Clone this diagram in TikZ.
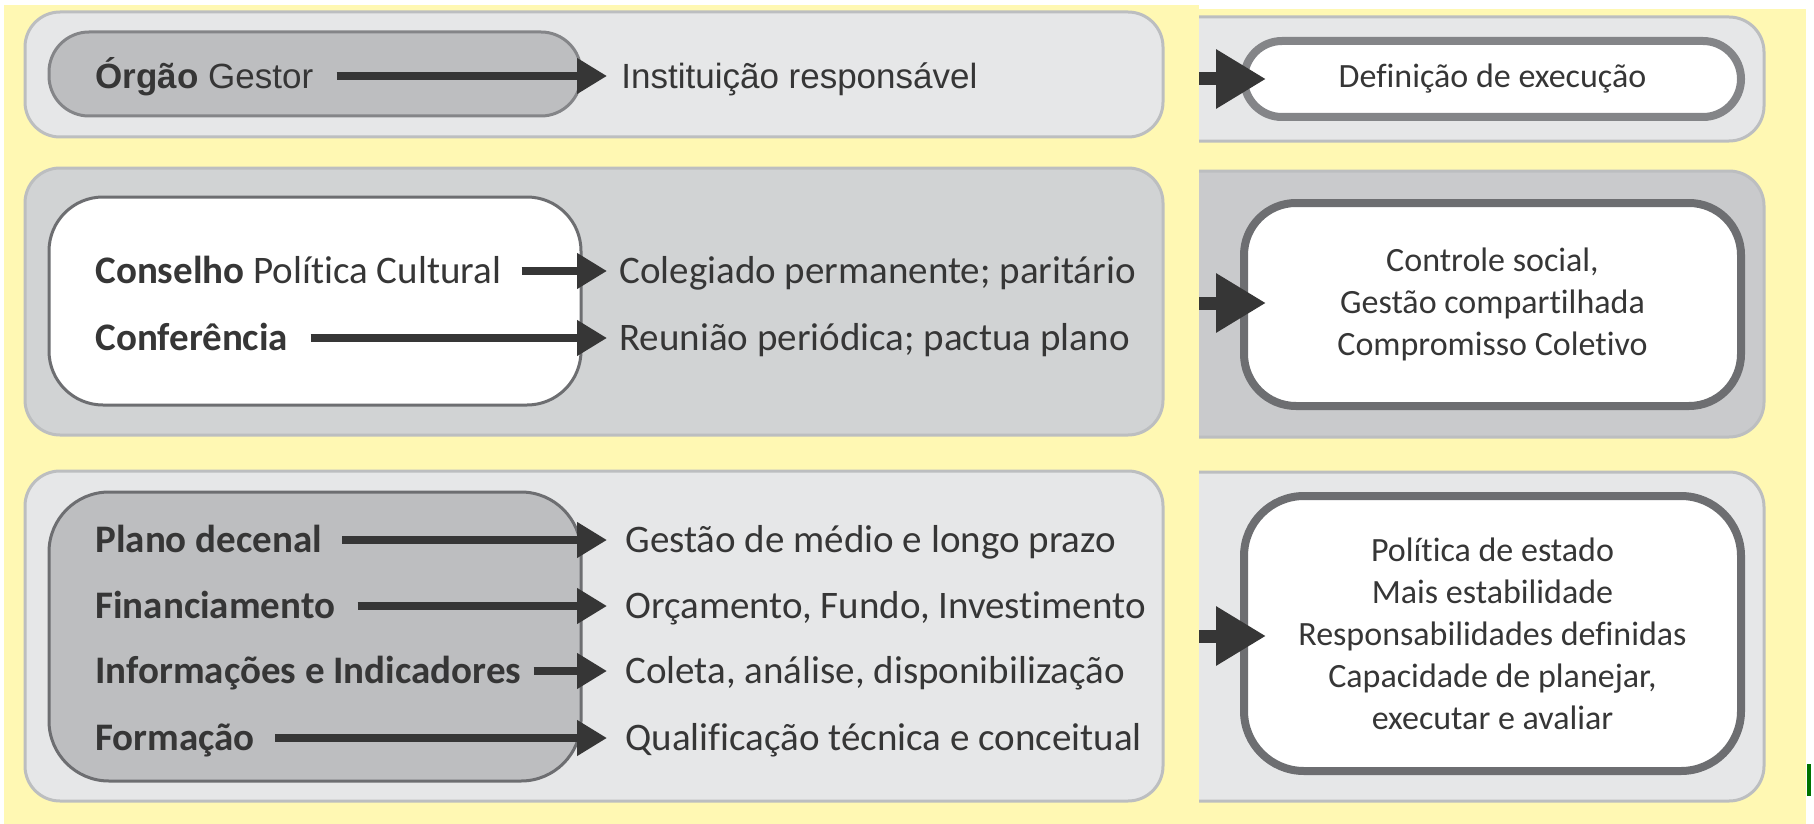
\documentclass[tikz,border=0pt]{standalone}
\usepackage{fontspec}
\setmainfont{Carlito}[RawFeature={-liga;-clig;-calt;-dlig}]
\newfontfamily\arialfont{Liberation Sans}
\usetikzlibrary{arrows.meta}

\definecolor{bgyellow}{HTML}{FFF8B3}
\definecolor{panellight}{HTML}{E6E7E8}
\definecolor{panelmid}{HTML}{D1D3D4}
\definecolor{panelmidr}{HTML}{C9CACC}
\definecolor{panelline}{HTML}{BCBEC0}
\definecolor{boxgray}{HTML}{BDBEC0}
\definecolor{boxline}{HTML}{6D6E71}
\definecolor{boxlinelt}{HTML}{848588}
\definecolor{arrowc}{HTML}{363636}
\definecolor{txt}{HTML}{363636}

\begin{document}
\begin{tikzpicture}[x=0.5pt,y=-0.5pt,
    lbl/.style={anchor=west, inner sep=0pt, text height=12.5pt, text depth=0pt,
      text=txt, font=\fontsize{19.5}{23}\selectfont},
    lblA/.style={lbl, font=\arialfont\fontsize{17.5}{21}\selectfont},
    arr/.style={-{Triangle[length=15pt,width=17pt]}, line width=4pt, draw=arrowc},
    bigarr/.style={-{Triangle[length=25pt,width=28pt]}, line width=6.5pt, draw=arrowc},
    panel/.style={line width=1.5pt, draw=panelline, rounded corners=17.5pt},
    result/.style={draw=boxline, fill=white, line width=4pt, align=center,
      inner sep=0pt, text=txt, font=\fontsize{17}{21}\selectfont,
      minimum width=248.5pt}]
  \useasboundingbox (0,0) rectangle (1814,824);
  \fill[white] (0,0) rectangle (1814,824);
  \fill[bgyellow] (4,5) rectangle (1199,824);
  \fill[bgyellow] (1199,9) rectangle (1806,824);
  \fill[green!45!black] (1807,764) rectangle (1811,796);

  % left panels
  \draw[panel, fill=panellight] (25,12) rectangle (1163,137);
  \draw[panel, fill=panelmid] (25,168) rectangle (1163,435);
  \draw[panel, fill=panellight] (25,471) rectangle (1163,801);

  \draw[line width=1.5pt, draw=boxlinelt, fill=boxgray, rounded corners=20pt] (49,32) rectangle (581,116);
  \draw[line width=1.5pt, draw=boxline, fill=white, rounded corners=27pt] (49,197) rectangle (581,405);
  \draw[line width=1.5pt, draw=boxline, fill=boxgray, rounded corners=30pt] (49,492) rectangle (581,781);

  \node[lblA] (orgao) at (95,76) {\textbf{Órgão} Gestor};
  \node[lblA] (inst) at (621,76) {Instituição responsável};
  \draw[arr] ([xshift=11.5pt]orgao.east) -- ([xshift=-7pt]inst.west);

  \node[lbl] (conselho) at (95,271) {\textbf{Conselho} Política Cultural};
  \node[lbl] (colegiado) at (619,271) {Colegiado permanente; paritário};
  \node[lbl] (conf) at (95,338) {\textbf{Conferência}};
  \node[lbl] (reuniao) at (619,338) {Reunião periódica; pactua plano};
  \draw[arr] ([xshift=10pt]conselho.east) -- ([xshift=-6pt]colegiado.west);
  \draw[arr] ([xshift=11pt]conf.east) -- ([xshift=-6pt]reuniao.west);

  \node[lbl] (plano) at (95,540) {\textbf{Plano decenal}};
  \node[lbl] (gestao) at (625,540) {Gestão de médio e longo prazo};
  \node[lbl] (financ) at (95,606) {\textbf{Financiamento}};
  \node[lbl] (orcam) at (625,606) {Orçamento, Fundo, Investimento};
  \node[lbl] (inform) at (95,671) {\textbf{Informações e Indicadores}};
  \node[lbl] (coleta) at (625,671) {Coleta, análise, disponibilização};
  \node[lbl] (formacao) at (95,738) {\textbf{Formação}};
  \node[lbl] (qualif) at (625,738) {Qualificação técnica e conceitual};
  \draw[arr] ([xshift=10pt]plano.east) -- ([xshift=-9pt]gestao.west);
  \draw[arr] ([xshift=11pt]financ.east) -- ([xshift=-9pt]orcam.west);
  \draw[arr] ([xshift=6pt]inform.east) -- ([xshift=-9pt]coleta.west);
  \draw[arr] ([xshift=10pt]formacao.east) -- ([xshift=-9pt]qualif.west);

  % right panels, cut on the left
  \begin{scope}
    \clip (1199,0) rectangle (1814,824);
    \draw[panel, fill=panellight] (1120,17) rectangle (1764,141);
    \draw[panel, fill=panelmidr] (1120,171) rectangle (1764,437);
    \draw[panel, fill=panellight] (1120,472) rectangle (1764,801);
  \end{scope}

  \node[result, draw=boxlinelt, minimum height=38pt, rounded corners=19pt] (def) at (1492.5,79) {Definição de execução};
  \node[result, minimum height=101.5pt, rounded corners=26pt] (controle) at (1492.5,304.5)
    {Controle social,\\Gestão compartilhada\\Compromisso Coletivo};
  \node[result, minimum height=137.5pt, rounded corners=30pt] (politica) at (1492.5,633.5)
    {Política de estado\\Mais estabilidade\\Responsabilidades definidas\\Capacidade de planejar,\\executar e avaliar};

  \coordinate (s1) at (1199,79);
  \coordinate (s2) at (1199,303);
  \coordinate (s3) at (1199,636);
  \draw[bigarr] (s1) -- ([xshift=13pt]def.west |- s1);
  \draw[bigarr] (s2) -- ([xshift=13pt]controle.west |- s2);
  \draw[bigarr] (s3) -- ([xshift=13pt]politica.west |- s3);
\end{tikzpicture}
\end{document}
